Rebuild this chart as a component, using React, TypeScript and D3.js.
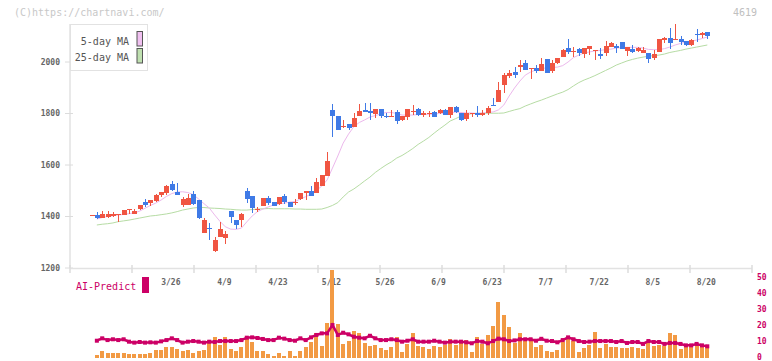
import React from 'react';
import * as d3 from 'd3';

// price candles, one per trading day (index 0 .. 115)
const open = [
  1405, 1406, 1395, 1398, 1402, 1406, 1407, 1425, 1411, 1429,
  1457, 1454, 1460, 1485, 1492, 1526, 1495, 1446, 1446, 1487,
  1464, 1337, 1355, 1267, 1322, 1318, 1421, 1386, 1386, 1499,
  1480, 1428, 1441, 1471, 1457, 1450, 1480, 1457, 1456, 1469,
  1491, 1499, 1490, 1518, 1556, 1815, 1791, 1751, 1759, 1749,
  1789, 1815, 1811, 1798, 1816, 1792, 1790, 1806, 1775, 1788,
  1806, 1816, 1795, 1797, 1807, 1803, 1813, 1796, 1824, 1803,
  1780, 1800, 1803, 1794, 1801, 1834, 1846, 1911, 1947, 1961,
  1980, 1996, 1975, 1977, 1966, 2010, 1966, 1995, 2020, 2054,
  2040, 2049, 2031, 2052, 2041, 2031, 2036, 2058, 2062, 2078,
  2043, 2050, 2043, 2036, 2035, 2015, 2039, 2087, 2093, 2087,
  2089, 2081, 2066, 2110, 2106, 2116,
];
const high = [
  1406, 1416, 1420, 1421, 1417, 1410, 1425, 1429, 1430, 1445,
  1467, 1464, 1486, 1495, 1521, 1538, 1531, 1477, 1487, 1499,
  1464, 1395, 1376, 1322, 1379, 1344, 1421, 1386, 1415, 1509,
  1480, 1438, 1472, 1480, 1458, 1476, 1487, 1457, 1469, 1491,
  1500, 1520, 1548, 1561, 1652, 1836, 1791, 1775, 1759, 1801,
  1837, 1840, 1840, 1816, 1816, 1801, 1813, 1813, 1790, 1816,
  1833, 1821, 1808, 1808, 1808, 1817, 1817, 1824, 1830, 1803,
  1813, 1801, 1830, 1813, 1830, 1860, 1921, 1956, 1969, 1982,
  2008, 2008, 1977, 1988, 2014, 2010, 2008, 2015, 2050, 2089,
  2058, 2055, 2054, 2062, 2046, 2054, 2083, 2077, 2070, 2078,
  2058, 2066, 2058, 2058, 2035, 2046, 2089, 2097, 2132, 2147,
  2101, 2081, 2089, 2128, 2116, 2116,
];
const low = [
  1405, 1389, 1395, 1393, 1398, 1377, 1407, 1411, 1411, 1424,
  1438, 1441, 1456, 1475, 1485, 1500, 1485, 1438, 1446, 1446,
  1390, 1337, 1309, 1263, 1322, 1293, 1376, 1350, 1358, 1451,
  1415, 1416, 1441, 1445, 1441, 1446, 1450, 1436, 1445, 1466,
  1464, 1481, 1490, 1518, 1556, 1710, 1735, 1742, 1737, 1749,
  1789, 1805, 1776, 1784, 1781, 1781, 1788, 1759, 1771, 1775,
  1795, 1789, 1788, 1788, 1788, 1797, 1794, 1784, 1801, 1771,
  1771, 1788, 1785, 1789, 1795, 1829, 1843, 1881, 1937, 1939,
  1960, 1969, 1933, 1956, 1966, 1958, 1958, 1994, 2020, 2031,
  2018, 2024, 2015, 2028, 2008, 2012, 2024, 2058, 2036, 2050,
  2023, 2035, 2039, 2036, 1997, 2008, 2039, 2074, 2052, 2087,
  2066, 2062, 2062, 2078, 2093, 2090,
];
const close = [
  1406, 1395, 1410, 1410, 1410, 1410, 1425, 1429, 1421, 1445,
  1446, 1464, 1483, 1495, 1518, 1503, 1485, 1468, 1472, 1449,
  1394, 1386, 1353, 1309, 1351, 1332, 1399, 1366, 1410, 1469,
  1434, 1429, 1472, 1454, 1442, 1476, 1457, 1438, 1457, 1491,
  1500, 1481, 1535, 1561, 1617, 1791, 1737, 1753, 1745, 1784,
  1811, 1807, 1802, 1816, 1790, 1791, 1792, 1772, 1790, 1816,
  1808, 1796, 1803, 1803, 1788, 1813, 1796, 1824, 1806, 1775,
  1803, 1801, 1794, 1803, 1822, 1832, 1891, 1949, 1957, 1949,
  1988, 1969, 1977, 1965, 1992, 1958, 1997, 2015, 2046, 2040,
  2042, 2036, 2054, 2062, 2046, 2024, 2062, 2074, 2055, 2052,
  2058, 2039, 2054, 2046, 2013, 2031, 2089, 2093, 2074, 2089,
  2078, 2066, 2085, 2108, 2112, 2102,
];

// moving averages (index 0 has none)
const ma5 = [
  null, 1390, 1396, 1400, 1403, 1406, 1408, 1411, 1414, 1421,
  1432, 1443, 1452, 1464, 1478, 1489, 1495, 1496, 1493, 1485,
  1468, 1450, 1433, 1406, 1381, 1360, 1351, 1350, 1355, 1379,
  1402, 1419, 1429, 1437, 1445, 1449, 1452, 1456, 1458, 1468,
  1477, 1487, 1501, 1518, 1542, 1588, 1635, 1685, 1720, 1749,
  1765, 1775, 1786, 1792, 1798, 1804, 1804, 1800, 1794, 1794,
  1794, 1796, 1796, 1797, 1798, 1800, 1802, 1804, 1805, 1804,
  1802, 1802, 1800, 1802, 1804, 1806, 1814, 1833, 1868, 1899,
  1926, 1949, 1961, 1969, 1975, 1977, 1979, 1980, 1986, 2000,
  2017, 2027, 2035, 2039, 2043, 2045, 2048, 2050, 2054, 2056,
  2057, 2057, 2057, 2054, 2049, 2048, 2048, 2052, 2058, 2066,
  2072, 2078, 2081, 2085, 2091, 2097,
];
const ma25 = [
  null, 1367, 1370, 1372, 1375, 1380, 1383, 1386, 1390, 1394,
  1398, 1402, 1404, 1407, 1410, 1414, 1419, 1425, 1429, 1433,
  1435, 1435, 1433, 1432, 1431, 1429, 1428, 1426, 1425, 1425,
  1427, 1429, 1430, 1431, 1430, 1430, 1430, 1430, 1429, 1429,
  1428, 1428, 1428, 1429, 1435, 1443, 1454, 1476, 1495, 1507,
  1522, 1538, 1553, 1571, 1586, 1600, 1612, 1627, 1637, 1650,
  1664, 1680, 1693, 1707, 1724, 1740, 1755, 1771, 1780, 1790,
  1796, 1799, 1801, 1801, 1801, 1801, 1801, 1802, 1808, 1814,
  1819, 1829, 1837, 1845, 1852, 1860, 1868, 1876, 1883, 1893,
  1907, 1920, 1930, 1938, 1947, 1957, 1967, 1977, 1988, 1996,
  2004, 2010, 2015, 2019, 2022, 2025, 2027, 2031, 2037, 2041,
  2045, 2050, 2054, 2058, 2062, 2066,
];

// lower panel: volume bars and AI-Predict line
const volume = [
  null, 1.7, 4.4, 3.1, 3.1, 3.1, 3.1, 2.5, 2.5, 2.5,
  2.5, 3.1, 5, 5, 6.9, 6.9, 5.6, 4.4, 5, 3.1,
  4.4, 5, 11.2, 13.1, 8.1, 13.1, 5.6, 4.4, 6.9, 11.9,
  10, 4.4, 4.4, 2.5, 1.2, 3.1, 1.2, 4.4, 1.2, 4.4,
  6.9, 10, 15.6, 7.5, 21.9, 55, 21.5, 8.7, 10.6, 16.9,
  15.8, 9.4, 7.5, 8.1, 6.2, 5, 6.9, 13.1, 3.8, 8.7,
  15.8, 7.5, 6.9, 5.6, 7.5, 6.9, 8.1, 11.9, 8.1, 9.4,
  11.2, 3.8, 13.1, 8.7, 14.4, 20, 35, 27, 19.4, 9.4,
  15.6, 10.6, 10.6, 6.9, 8.1, 4.4, 3.8, 5.2, 9.8, 11.9,
  10.6, 3.8, 6.2, 8.1, 16.2, 6.2, 8.8, 6.9, 6.9, 6.2,
  6.2, 6.9, 6.2, 5.6, 9.4, 7.5, 8.1, 7.5, 15.6, 14.4,
  5.6, 7.5, 7.5, 8.1, 7.5, 7.5,
];
const aiPredict = [
  null, 10.8, 12.3, 11.2, 11.7, 11.2, 11.7, 10.2, 9.6, 10,
  9.6, 9.8, 9.6, 10.4, 11.2, 12.3, 11.2, 9.6, 10.2, 10.6,
  10.2, 9.6, 10.2, 10, 10.6, 10.6, 10.6, 10.6, 11.2, 12.7,
  12.9, 12.5, 11.9, 11.2, 11.2, 12.7, 12.1, 11.2, 10.8, 12.3,
  11.2, 12.9, 14.4, 15.4, 15.4, 20.6, 14.4, 15.8, 14.8, 13.3,
  12.7, 12.3, 13.9, 12.3, 11.2, 11.2, 11.7, 11.2, 10.2, 10.8,
  11.7, 10.2, 10.2, 10.2, 10.8, 10.2, 9.6, 10.2, 10.2, 10.2,
  9.8, 9.2, 10.6, 10.2, 9.2, 10.6, 12.1, 11.7, 10.6, 11,
  11.7, 11.7, 11.7, 10.8, 12, 10.8, 10.6, 9.8, 11.2, 12.9,
  11.7, 10.6, 10, 10.2, 10.6, 10.6, 10.6, 10.6, 10, 10.6,
  9.4, 10, 10, 8.8, 10.6, 10, 10, 8.8, 9.4, 9.4,
  8.8, 7.9, 7.9, 8.8, 7.9, 7.3,
];

const dateLabels = ['3/26', '4/9', '4/23', '5/12', '5/26', '6/9', '6/23', '7/7', '7/22', '8/5', '8/20'];
const dateLabelIndex = [15, 25, 35, 45, 55, 65, 75, 85, 95, 105, 115];
const priceTicks = [1200, 1400, 1600, 1800, 2000];
const lowerTicks = [0, 10, 20, 30, 40, 50];

const W = 772;
const H = 361;
const UP = '#f05542';
const DOWN = '#3f7ae6';
const AI = '#cc0066';
const MONO = '"DejaVu Sans Mono", "Liberation Mono", monospace';

const App: React.FC = () => {
  const n = close.length;
  const x = d3.scaleLinear().domain([0, n - 1]).range([91.5, 707.3]);
  const y = d3.scaleLinear().domain([1200, 2000]).range([268, 62]);
  const yLow = d3.scaleLinear().domain([0, 50]).range([358, 278]);
  // frame tick marks along the x axis (evenly spaced)
  const frame = d3.scaleLinear().domain([0, 11]).range([70, 752]);

  const maLine = d3
    .line<number | null>()
    .defined((d) => d !== null)
    .x((_, i) => x(i))
    .y((d) => y(d as number));

  const aiLine = d3
    .line<number | null>()
    .defined((d) => d !== null)
    .x((_, i) => x(i))
    .y((d) => yLow(d as number));

  return (
    <svg
      width={W}
      height={H}
      style={{ position: 'absolute', left: 0, top: 0, background: '#fff' }}
      fontFamily={MONO}
    >
      {/* header */}
      <text x={14} y={16} fontSize={10} fill="#c8c8c8">(C)https://chartnavi.com/</text>
      <text x={757} y={16} fontSize={10} fill="#c0c0c0" textAnchor="end">4619</text>

      {/* y axis */}
      <line x1={70} x2={70} y1={24} y2={268} stroke="#e2e2e2" strokeWidth={1.5} />
      {priceTicks.map((t) => (
        <g key={t}>
          <line x1={65} x2={73} y1={y(t)} y2={y(t)} stroke="#dcdcdc" />
          <text x={60} y={y(t)} dy="0.35em" fontSize={8} fontWeight="bold" fill="#666" textAnchor="end">
            {t}
          </text>
        </g>
      ))}

      {/* x axis */}
      <line x1={70} x2={752} y1={268.5} y2={268.5} stroke="#e2e2e2" strokeWidth={1.5} />
      {d3.range(12).map((k) => (
        <line key={k} x1={frame(k)} x2={frame(k)} y1={265} y2={273} stroke="#dcdcdc" strokeWidth={1.5} />
      ))}
      {dateLabels.map((d, k) => (
        <text key={d} x={x(dateLabelIndex[k]) - 1} y={285} fontSize={8} fontWeight="bold" fill="#666" textAnchor="middle">
          {d}
        </text>
      ))}

      {/* moving averages */}
      <path d={maLine(ma25) || ''} fill="none" stroke="#b6dca4" strokeWidth={1} />
      <path d={maLine(ma5) || ''} fill="none" stroke="#ecb8ec" strokeWidth={1} />

      {/* candles */}
      <g shapeRendering="crispEdges">
        {close.map((c, i) => {
          const o = open[i];
          const col = c >= o ? UP : DOWN;
          const top = y(Math.max(o, c));
          const bot = y(Math.min(o, c));
          const cx = Math.round(x(i));
          return (
            <g key={i}>
              <line x1={cx + 0.5} x2={cx + 0.5} y1={y(high[i])} y2={y(low[i])} stroke={col} />
              <rect x={cx - 2} y={top} width={5} height={Math.max(1, bot - top)} fill={col} />
            </g>
          );
        })}
      </g>

      {/* legend */}
      <rect x={70.5} y={24.5} width={77} height={46} fill="#fff" stroke="#e2e2e2" />
      <text x={129} y={44.5} fontSize={10} fill="#555" textAnchor="end">5-day MA</text>
      <text x={129} y={60.5} fontSize={10} fill="#555" textAnchor="end">25-day MA</text>
      <rect x={137} y={31.5} width={5.5} height={14.5} fill="#f0c0f0" stroke="#555" />
      <rect x={137} y={48.5} width={5.5} height={14.5} fill="#bfe0b0" stroke="#555" />

      {/* lower panel */}
      <text x={76} y={290} fontSize={10} fill={AI}>AI-Predict</text>
      <rect x={142} y={277} width={7} height={16} fill={AI} />
      <g shapeRendering="crispEdges">
        {volume.map((v, i) =>
          v === null ? null : (
            <rect
              key={i}
              x={Math.round(x(i)) - 2}
              y={yLow(v)}
              width={4}
              height={yLow(0) - yLow(v)}
              fill="#f29a44"
            />
          )
        )}
      </g>
      <path d={aiLine(aiPredict) || ''} fill="none" stroke={AI} strokeWidth={2.5} />
      {aiPredict.map((v, i) =>
        v === null ? null : <rect key={i} x={x(i) - 2} y={yLow(v) - 2} width={4} height={4} fill={AI} />
      )}
      {lowerTicks.map((t) => (
        <text key={t} x={757} y={yLow(t) - 1} dy="0.35em" fontSize={8} fontWeight="bold" fill={AI}>
          {t}
        </text>
      ))}
    </svg>
  );
};

export default App;
